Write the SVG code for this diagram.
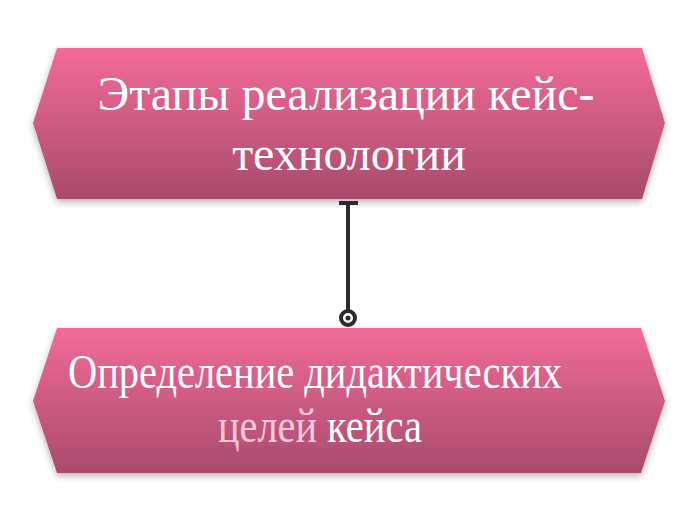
<svg xmlns="http://www.w3.org/2000/svg" width="697" height="520" viewBox="0 0 697 520">
<defs>
<linearGradient id="g" x1="0" y1="0" x2="0" y2="1">
<stop offset="0" stop-color="#f26b99"/>
<stop offset="1" stop-color="#a84b6c"/>
</linearGradient>
<filter id="sh" x="-10%" y="-10%" width="120%" height="130%">
<feDropShadow dx="0" dy="3" stdDeviation="3.5" flood-color="#000" flood-opacity="0.3"/>
</filter>
<style>
.box{fill:url(#g);filter:url(#sh);}
.t{font-family:"Liberation Serif","Times New Roman",serif;font-size:48px;fill:#ffffff;}
.lt{fill:#fbc8de;}
.c{stroke:#2a2a2e;stroke-width:4;fill:none;}
</style>
</defs>
<rect width="697" height="520" fill="#ffffff"/>
<g id="node1">
<polygon class="box" points="57,48 642,48 665,123 642,199 57,199 33,123"/>
<text class="t" x="346" y="110" text-anchor="middle">Этапы реализации кейс-</text>
<text class="t" x="349" y="170" text-anchor="middle">технологии</text>
</g>
<g id="node2">
<polygon class="box" points="57,328 641,328 665,401 641,473 57,473 33,401"/>
<text class="t" x="68" y="388" textLength="494" lengthAdjust="spacingAndGlyphs">Определение дидактических</text>
<text class="t lt" x="218" y="442" textLength="99" lengthAdjust="spacingAndGlyphs">целей</text>
<text class="t" x="327" y="442" textLength="95" lengthAdjust="spacingAndGlyphs">кейса</text>
</g>
<g id="connectors">
<line class="c" x1="348" y1="203" x2="348" y2="311"/>
<line class="c" x1="339" y1="203" x2="358" y2="203"/>
<circle class="c" cx="348" cy="318" r="7" stroke-width="3.5"/>
<circle cx="348" cy="318" r="2.5" fill="#2a2a2e"/>
</g>
</svg>
